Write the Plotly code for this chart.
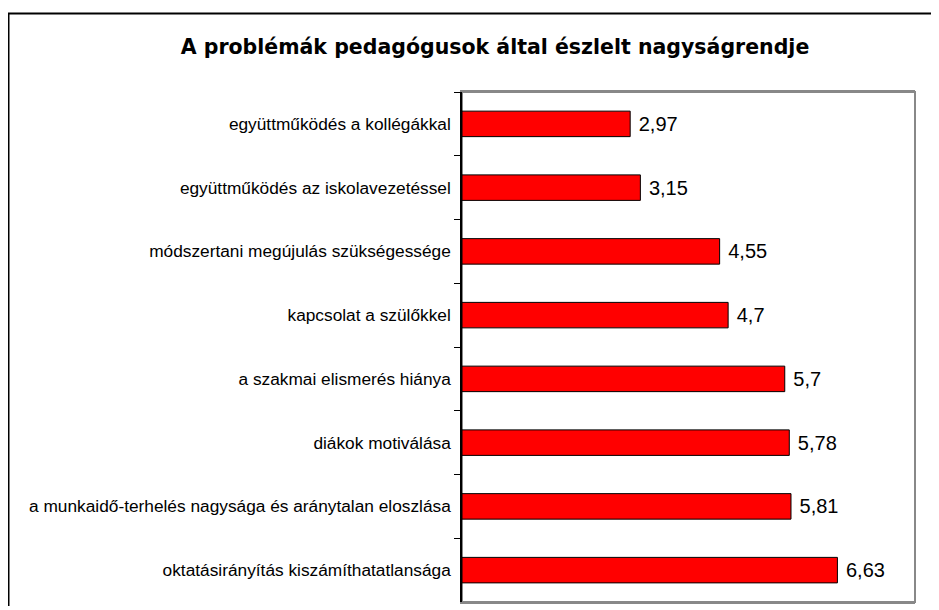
import plotly.graph_objects as go

categories = [
    "együttműködés a kollégákkal",
    "együttműködés az iskolavezetéssel",
    "módszertani megújulás szükségessége",
    "kapcsolat a szülőkkel",
    "a szakmai elismerés hiánya",
    "diákok motiválása",
    "a munkaidő-terhelés nagysága és aránytalan eloszlása",
    "oktatásirányítás kiszámíthatatlansága",
]
values = [2.97, 3.15, 4.55, 4.7, 5.7, 5.78, 5.81, 6.63]
value_labels = [" " + str(v).replace(".", ",") for v in values]
title_text = "A problémák pedagógusok által észlelt nagyságrendje"

# page body has an 8px default margin, so the figure is laid out 8px smaller/shifted
OFF = 8
W, H = 939 - OFF, 610 - OFF - 4
L, T = 462 - OFF, 92 - OFF
R = W - (915 - OFF)
B = H - (602 - OFF)
pw = W - L - R
ph = H - T - B

FONT = "Liberation Sans, Arial, sans-serif"

fig = go.Figure(
    go.Bar(
        x=values,
        y=categories,
        orientation="h",
        marker=dict(color="#FF0000", line=dict(color="black", width=1)),
        text=value_labels,
        textposition="outside",
        textfont=dict(family=FONT, size=20, color="black"),
        cliponaxis=False,
        width=0.4,
    )
)

# plot-area gray frame
fig.add_shape(type="rect", xref="paper", yref="paper", x0=0, x1=1, y0=0, y1=1,
              line=dict(color="#888888", width=2), layer="below")
# outer chart border (cropped on right and bottom)
fig.add_shape(type="rect", xref="paper", yref="paper",
              x0=(8.5 - OFF - L) / pw, x1=(W + 20 - L) / pw,
              y0=(T + ph - (H + 20)) / ph, y1=(T + ph - (13.5 - OFF)) / ph,
              line=dict(color="black", width=2), layer="below")

fig.update_layout(
    width=W, height=H,
    margin=dict(l=L, r=R, t=T, b=B),
    paper_bgcolor="white", plot_bgcolor="white",
    showlegend=False,
    title=dict(text="<b>" + title_text + "</b>", x=(495 - OFF) / W, xanchor="center",
               y=1 - (47 - OFF) / H, yanchor="middle",
               font=dict(family="DejaVu Sans, sans-serif", size=20.5, color="black")),
    xaxis=dict(range=[0, 8], showgrid=False, showticklabels=False, ticks="",
               zeroline=False, showline=True, mirror=True, linecolor="#888888",
               linewidth=2, fixedrange=True),
    yaxis=dict(autorange="reversed", showgrid=False, showline=True, linecolor="black",
               linewidth=1.5, ticks="outside", tickson="boundaries", ticklen=6,
               tickcolor="black", tickwidth=1, ticklabelstandoff=6,
               tickfont=dict(family=FONT, size=17.3, color="black")),
    font=dict(family=FONT),
)

fig.write_html("out.html")
